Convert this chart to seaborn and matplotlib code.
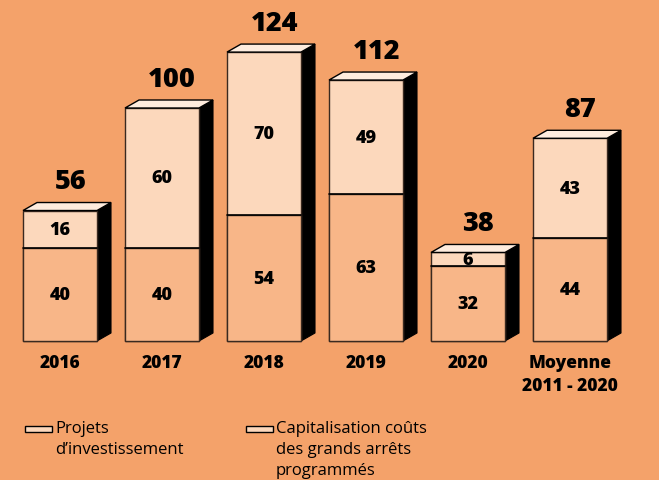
import numpy as np
import pandas as pd
import matplotlib.pyplot as plt
import seaborn as sns
from matplotlib.patches import Polygon, Rectangle

# ============================================================
# DATA
# ============================================================

categories = ["2016", "2017", "2018", "2019", "2020", "Moyenne\n2011 - 2020"]
investissement = [40, 40, 54, 63, 32, 44]
capitalisation = [16, 60, 70, 49, 6, 43]
totals = [56, 100, 124, 112, 38, 87]

legend_labels = [
    "Projets\nd\u2019investissement",
    "Capitalisation coûts\ndes grands arrêts\nprogrammés",
]

# ============================================================
# STYLE
# ============================================================

BG = "#F4A26A"
C_LOW = "#F8B688"
C_TOP = "#FCD8BC"
C_FACE = "#FEECDE"
EDGE = "#3a2a20"

sns.set_theme(style="white")
plt.rcParams["font.family"] = ["Open Sans", "DejaVu Sans"]

df = pd.DataFrame({
    "cat": categories,
    "invest": investissement,
    "capital": capitalisation,
    "total": totals,
})

W, H = 659, 481
fig = plt.figure(figsize=(W / 100, H / 100), dpi=100)
fig.patch.set_facecolor(BG)

ax = fig.add_axes([0, 0, 1, 1])
ax.set_facecolor(BG)

px_unit = 2.33      # pixels per value unit
base_px = 342       # baseline, pixels from top
x_step = 102        # pixels between bar centres
x0_px = 60

bw = 74 / x_step

sns.barplot(data=df, x="cat", y="total", color=C_TOP, width=bw,
            edgecolor=EDGE, linewidth=1.0, saturation=1, ax=ax, zorder=2)
sns.barplot(data=df, x="cat", y="invest", color=C_LOW, width=bw,
            edgecolor=EDGE, linewidth=1.0, saturation=1, ax=ax, zorder=3)

ax.set_xlim(-x0_px / x_step, (W - x0_px) / x_step)
ax.set_ylim(-(H - base_px) / px_unit, base_px / px_unit)
ax.axis("off")

dx = 14 / x_step
dy = 8 / px_unit

for i, row in df.iterrows():
    xl = i - bw / 2
    xr = i + bw / 2
    top = row["total"]

    # black right side
    ax.add_patch(Polygon(
        [(xr, 0), (xr + dx, dy), (xr + dx, top + dy), (xr, top)],
        closed=True, facecolor="black", edgecolor="black",
        linewidth=0.8, zorder=1))

    # top face
    ax.add_patch(Polygon(
        [(xl, top), (xl + dx, top + dy), (xr + dx, top + dy), (xr, top)],
        closed=True, facecolor=C_FACE, edgecolor="black",
        linewidth=1.0, zorder=4))

    # separator between segments
    ax.plot([xl, xr], [row["invest"], row["invest"]],
            color="black", lw=1.2, zorder=5)

    # segment values
    ax.text(i, row["invest"] / 2, str(row["invest"]),
            ha="center", va="center", fontsize=13, fontweight="heavy",
            color="black", zorder=6)
    ax.text(i, row["invest"] + row["capital"] / 2, str(row["capital"]),
            ha="center", va="center", fontsize=13, fontweight="heavy",
            color="black", zorder=6)

    # total on top
    ax.text(i + 0.1, top + 12.5, str(top),
            ha="center", va="center", fontsize=19.5, fontweight="heavy",
            color="black", zorder=6)

    # category label
    ax.text(i, -(355 - base_px) / px_unit, row["cat"],
            ha="center", va="top", fontsize=12.5, fontweight="heavy",
            color="black", linespacing=1.45)

# ============================================================
# LEGEND
# ============================================================

leg_x = [25, 246]
leg_colors = [C_TOP, C_TOP]
for lx, col, lab in zip(leg_x, leg_colors, legend_labels):
    fig.add_artist(Rectangle(
        (lx / W, 1 - 433 / H), 27 / W, 6 / H,
        transform=fig.transFigure, facecolor=col,
        edgecolor="black", linewidth=1.0))
    fig.text((lx + 30) / W, 1 - 421 / H, lab,
             ha="left", va="top", fontsize=12, fontweight="medium",
             color="black", linespacing=1.42)

fig.savefig("out.png", dpi=100, facecolor=BG)
